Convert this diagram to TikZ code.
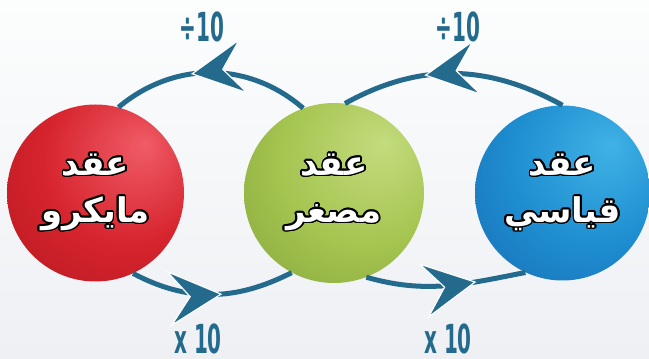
\documentclass[tikz,border=0pt]{standalone}
\usepackage{fontspec}
\usepackage{graphicx}
\usepackage{contour}
\usetikzlibrary{arrows.meta,decorations.markings}
\TeXXeTstate=1
\newfontfamily\arabicfont[Script=Arabic]{DejaVu Sans}
\newfontfamily\labelfont{DejaVu Sans}
\definecolor{fleche}{RGB}{35,106,141}
\definecolor{fondhaut}{RGB}{252,253,253}
\definecolor{fondbas}{RGB}{238,240,244}
\definecolor{rougeclair}{RGB}{240,92,102}
\definecolor{rouge}{RGB}{214,36,46}
\definecolor{rougefonce}{RGB}{170,20,26}
\definecolor{vertclair}{RGB}{196,220,126}
\definecolor{vert}{RGB}{165,196,80}
\definecolor{vertfonce}{RGB}{122,156,52}
\definecolor{bleuclair}{RGB}{64,178,230}
\definecolor{bleu}{RGB}{30,142,208}
\definecolor{bleufonce}{RGB}{22,98,172}
\pgfdeclareradialshading{bouleRouge}{\pgfpoint{14bp}{14bp}}{color(0bp)=(rougeclair); color(24bp)=(rouge); color(52bp)=(rougefonce); color(70bp)=(rougefonce)}
\pgfdeclareradialshading{bouleVerte}{\pgfpoint{14bp}{14bp}}{color(0bp)=(vertclair); color(24bp)=(vert); color(52bp)=(vertfonce); color(70bp)=(vertfonce)}
\pgfdeclareradialshading{bouleBleue}{\pgfpoint{14bp}{14bp}}{color(0bp)=(bleuclair); color(24bp)=(bleu); color(52bp)=(bleufonce); color(70bp)=(bleufonce)}
\contourlength{1.7pt}
\newcommand\motboule[1]{\contour{black}{\beginR #1\endR}}
\newcommand\serre[1]{\scalebox{0.5}[1]{#1}}
\begin{document}
\begin{tikzpicture}[x=1pt, y=1pt,
	boule/.style={circle, inner sep=0pt, text=white, align=center,
		font=\arabicfont\bfseries\fontsize{34}{47}\selectfont},
	facteur/.style={text=fleche, inner sep=0pt,
		font=\labelfont\bfseries\fontsize{40}{40}\selectfont},
	flow/.style={draw=fleche, line width=5pt, postaction={decorate},
		decoration={markings, mark=at position #1 with
			{\arrow{Stealth[length=55pt, width=57pt, inset=22pt, line width=1.2pt, color=fondhaut, fill=fleche]}}}}]
	% Fond
	\useasboundingbox (0,0) rectangle (649,359);
	\shade[top color=fondhaut, bottom color=fondbas] (0,0) rectangle (649,359);
	
	% Boules
	\node[boule, minimum size=177pt, shading=bouleRouge] (micro) at (95.5,166) {\motboule{عقد}\\\motboule{مايكرو}};
	\node[boule, minimum size=180pt, shading=bouleVerte] (mini) at (334,166) {\motboule{عقد}\\\motboule{مصغر}};
	\node[boule, minimum size=175pt, shading=bouleBleue] (standard) at (562.5,166) {\motboule{عقد}\\\motboule{قياسي}};
	
	% Arcs du haut (division)
	\draw[flow=0.6] (mini.110) to[out=139, in=40] (micro.75);
	\draw[flow=0.63] (standard.90) to[out=151, in=29] (mini.83);
	
	% Arcs du bas (multiplication)
	\draw[flow=0.56] (micro.295) to[out=-28, in=207] (mini.242);
	\draw[flow=0.69] (mini.291) to[out=-16, in=191] (standard.245);
	
	% Facteurs
	\node[facteur] (divG) at (202,332) {\serre{÷10}};
	\node[facteur] (divD) at (458,332) {\serre{÷10}};
	\node[facteur] (mulG) at (198,20) {\serre{x 10}};
	\node[facteur] (mulD) at (448,20) {\serre{x 10}};
\end{tikzpicture}
\end{document}
